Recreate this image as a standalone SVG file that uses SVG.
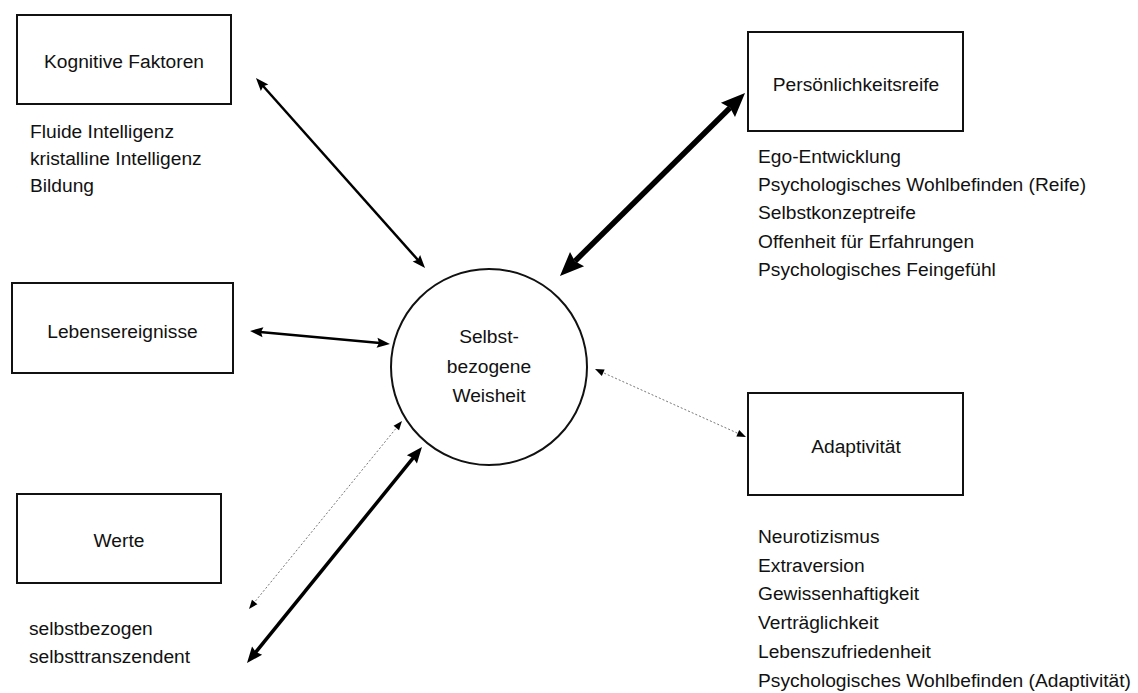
<svg xmlns="http://www.w3.org/2000/svg" width="1138" height="693" viewBox="0 0 1138 693">
<style>
text{font-family:"Liberation Sans",Arial,sans-serif;font-size:19.2px;fill:#111}
.c{text-anchor:middle}
.box{fill:#fff;stroke:#111;stroke-width:2}
.med{stroke:#000;stroke-width:2.5;fill:none;marker-start:url(#am);marker-end:url(#am)}
.thick{stroke:#000;stroke-width:5.5;fill:none;marker-start:url(#at);marker-end:url(#at)}
.mt{stroke:#000;stroke-width:3.5;fill:none;marker-start:url(#amt);marker-end:url(#amt)}
.thin{stroke:#777;stroke-width:1;stroke-dasharray:2 2;fill:none;marker-start:url(#an);marker-end:url(#an)}
</style>
<defs>
<marker id="am" markerUnits="userSpaceOnUse" markerWidth="13" markerHeight="10" refX="3" refY="5" orient="auto-start-reverse" overflow="visible"><path d="M0,0 L13,5 L0,10 L2,5 z" fill="#000"/></marker>
<marker id="at" markerUnits="userSpaceOnUse" markerWidth="24" markerHeight="20" refX="3" refY="10" orient="auto-start-reverse" overflow="visible"><path d="M0,0 L24,10 L0,20 L3,10 z" fill="#000"/></marker>
<marker id="amt" markerUnits="userSpaceOnUse" markerWidth="16" markerHeight="13" refX="3" refY="6.5" orient="auto-start-reverse" overflow="visible"><path d="M0,0 L16,6.5 L0,13 L2,6.5 z" fill="#000"/></marker>
<marker id="an" markerUnits="userSpaceOnUse" markerWidth="9" markerHeight="7" refX="3" refY="3.5" orient="auto-start-reverse" overflow="visible"><path d="M0,0 L9,3.5 L0,7 z" fill="#000"/></marker>
</defs>
<rect width="1138" height="693" fill="#fff"/>
<g id="connectors">
<line class="med" x1="262.6" y1="85.5" x2="418.4" y2="260.5"/>
<line class="thick" x1="730.1" y1="107.8" x2="574.9" y2="261.2"/>
<line class="med" x1="260" y1="331.9" x2="380" y2="343.1"/>
<line class="thin" x1="600.5" y1="371.5" x2="740.5" y2="434.5"/>
<line class="thin" x1="398.2" y1="425.7" x2="252.8" y2="604.3"/>
<line class="mt" x1="413.8" y1="457.1" x2="255.2" y2="652.9"/>
</g>
<g id="kognitive">
<rect class="box" x="17" y="15" width="214" height="89"/>
<text class="c" x="124" y="68">Kognitive Faktoren</text>
<text x="30" y="138">Fluide Intelligenz</text>
<text x="30" y="165">kristalline Intelligenz</text>
<text x="30" y="192">Bildung</text>
</g>
<g id="lebensereignisse">
<rect class="box" x="12" y="283" width="221" height="90"/>
<text class="c" x="122.5" y="338">Lebensereignisse</text>
</g>
<g id="werte">
<rect class="box" x="17" y="494" width="204" height="89"/>
<text class="c" x="119" y="547">Werte</text>
<text x="29" y="635">selbstbezogen</text>
<text x="29" y="663">selbsttranszendent</text>
</g>
<g id="weisheit">
<circle cx="489" cy="367" r="98" fill="#fff" stroke="#111" stroke-width="2"/>
<text class="c" x="489" y="343">Selbst-</text>
<text class="c" x="489" y="373">bezogene</text>
<text class="c" x="489" y="402">Weisheit</text>
</g>
<g id="persoenlichkeitsreife">
<rect class="box" x="748" y="32" width="215" height="99"/>
<text class="c" x="856" y="91">Persönlichkeitsreife</text>
<text x="758" y="163">Ego-Entwicklung</text>
<text x="758" y="191">Psychologisches Wohlbefinden (Reife)</text>
<text x="758" y="219">Selbstkonzeptreife</text>
<text x="758" y="248">Offenheit für Erfahrungen</text>
<text x="758" y="276">Psychologisches Feingefühl</text>
</g>
<g id="adaptivitaet">
<rect class="box" x="748" y="393" width="215" height="102"/>
<text class="c" x="856" y="453">Adaptivität</text>
<text x="758" y="543">Neurotizismus</text>
<text x="758" y="572">Extraversion</text>
<text x="758" y="600">Gewissenhaftigkeit</text>
<text x="758" y="629">Verträglichkeit</text>
<text x="758" y="658">Lebenszufriedenheit</text>
<text x="758" y="687">Psychologisches Wohlbefinden (Adaptivität)</text>
</g>
</svg>
